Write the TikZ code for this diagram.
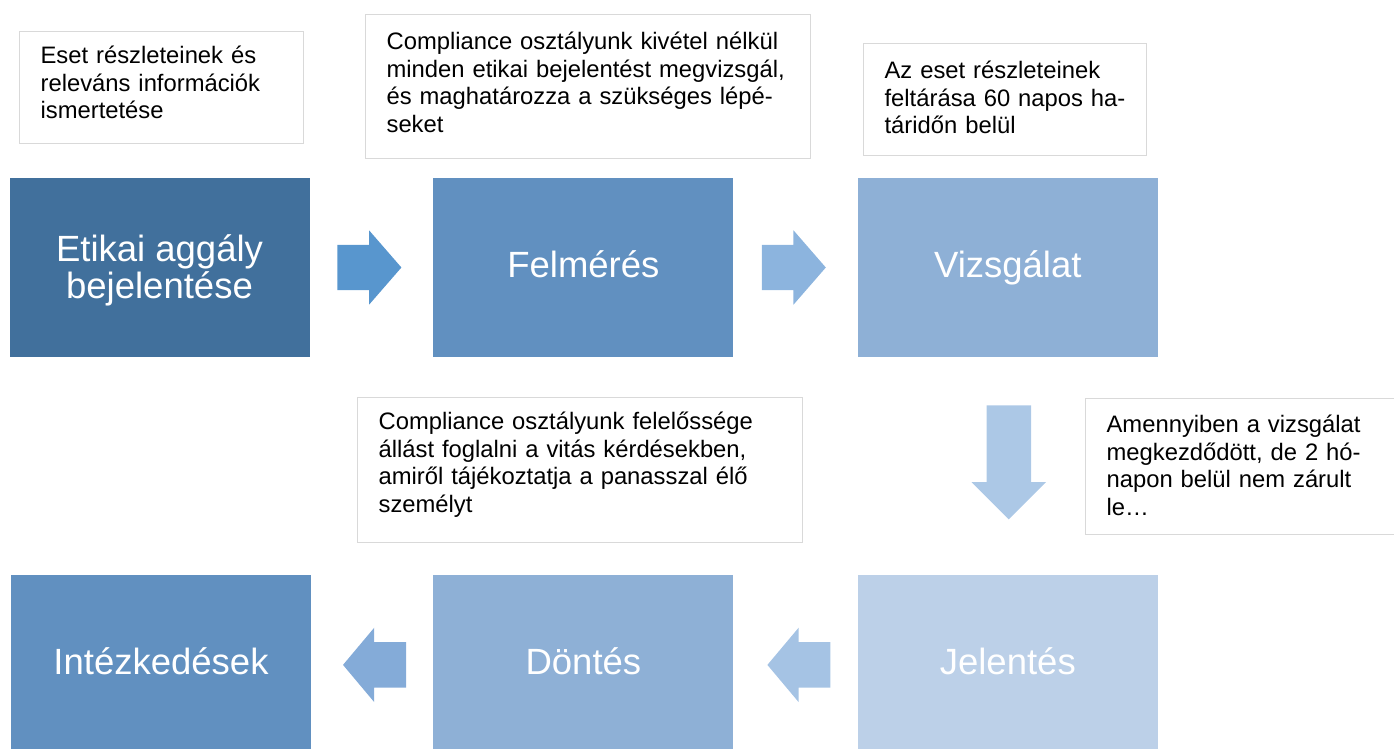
\documentclass[tikz,border=0pt]{standalone}
\usepackage{fontspec}
\setmainfont{Liberation Sans}
\usetikzlibrary{shapes.arrows, calc, positioning}

\begin{document}
\begin{tikzpicture} [
x=1pt, y=-1pt,
stepbox/.style = { rectangle, draw=none, text=white, align=center,
    minimum width=300pt, minimum height=179pt, inner sep=0pt,
    text height=27pt, text depth=7pt,
    font=\fontsize{36.5}{37}\selectfont },
note/.style    = { rectangle, draw=note_border, line width=1.2pt, fill=white,
    align=left, anchor=north west, inner xsep=21pt, inner ysep=0pt,
    font=\fontsize{23.8}{27.6}\selectfont },
harrow/.style  = { single arrow, draw=none, anchor=tail, inner xsep=0pt,
    inner ysep=22.5pt, single arrow head extend=14.5pt, minimum height=64pt,
    single arrow tip angle=98 },
larrow/.style  = { harrow, rotate=180, minimum height=63pt,
    single arrow tip angle=100 },
varrow/.style  = { single arrow, draw=none, anchor=tail, inner xsep=0pt,
    inner ysep=22pt, single arrow head extend=15pt, minimum height=114pt,
    rotate=-90 },
]
\definecolor{note_border}{RGB}{217,217,217}
\definecolor{box_dark}{RGB}{65,112,156}
\definecolor{box_mid}{RGB}{97,144,192}
\definecolor{box_light}{RGB}{142,176,214}
\definecolor{box_pale}{RGB}{188,208,232}
\definecolor{arrow_a}{RGB}{88,150,206}
\definecolor{arrow_b}{RGB}{140,180,222}
\definecolor{arrow_c}{RGB}{172,200,230}
\definecolor{arrow_d}{RGB}{165,195,228}
\definecolor{arrow_e}{RGB}{132,171,216}

\useasboundingbox (0,0) rectangle (1394,749);

% process steps
\node [stepbox, fill=box_dark, text height=69pt, text depth=7pt] (etikai) at (159.5,267.5)
    {Etikai aggály\\bejelentése};
\node [stepbox, fill=box_mid, right=123.5pt of etikai] (felmeres) {Felmérés};
\node [stepbox, fill=box_light, right=124pt of felmeres] (vizsgalat) {Vizsgálat};
\node [stepbox, fill=box_pale, below=218pt of vizsgalat] (jelentes) {Jelentés};
\node [stepbox, fill=box_light, left=124pt of jelentes] (dontes) {Döntés};
\node [stepbox, fill=box_mid, left=122pt of dontes] (intezkedes) {Intézkedések};

% notes
\node [note, text width=242pt, text height=32pt, text depth=80pt] (note1) at (19,31)
    {Eset részleteinek és\\releváns információk\\ismertetése};
\node [note, text width=403pt, text height=35pt, text depth=109pt] (note2) at (365,14)
    {Compliance osztályunk kivétel nélkül\\minden etikai bejelentést megvizsgál,\\és maghatározza a szükséges lépé-\\seket};
\node [note, text width=241pt, text height=35pt, text depth=77pt] (note3) at (863,43)
    {Az eset részleteinek\\\mbox{feltárása 60 napos ha-}\\táridőn belül};
\node [note, text width=403pt, text height=32pt, text depth=113pt] (note4) at (357,397)
    {Compliance osztályunk felelőssége\\állást foglalni a vitás kérdésekben,\\amiről tájékoztatja a panasszal élő\\személyt};
\node [note, text width=300pt, text height=34pt, text depth=102pt] (note5) at (1085,398)
    {Amennyiben a vizsgálat\\megkezdődött, de 2 hó-\\napon belül nem zárult\\le…};

% arrows between the steps
\node [harrow, fill=arrow_a] (a1) at ([xshift=27.5pt]etikai.east) {};
\node [harrow, fill=arrow_b] (a2) at ([xshift=28pt]felmeres.east) {};
\node [varrow, fill=arrow_c] (a3) at ([xshift=1pt, yshift=-48pt]vizsgalat.south) {};
\node [larrow, fill=arrow_d] (a4) at ([xshift=-27pt]jelentes.west) {};
\node [larrow, fill=arrow_e] (a5) at ([xshift=-27pt]dontes.west) {};

\end{tikzpicture}
\end{document}
